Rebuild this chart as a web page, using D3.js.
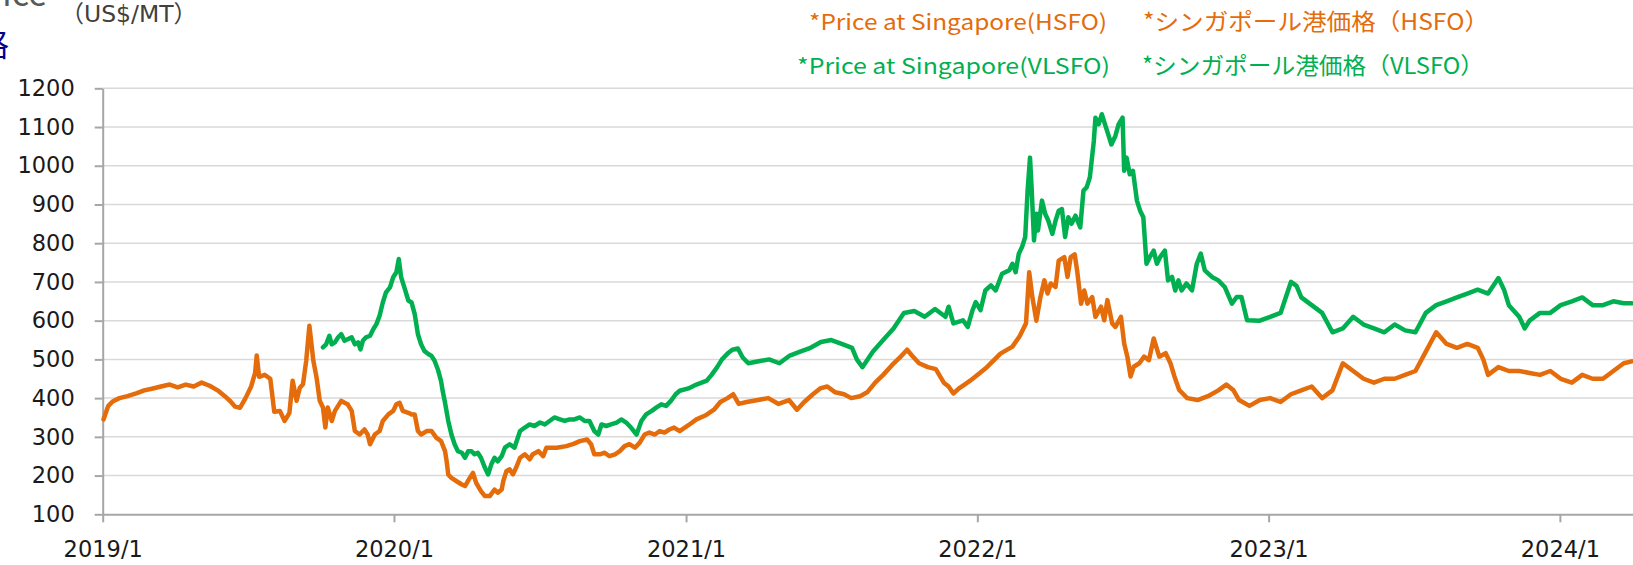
<!DOCTYPE html>
<html><head><meta charset="utf-8">
<script src="https://cdn.jsdelivr.net/npm/d3@7"></script>
<style>html,body{margin:0;padding:0;background:#fff;} svg{display:block;}</style>
</head><body>
<svg id="chart" width="1633" height="565"></svg>
<script>
// ---------- DATA ----------
const yTicks = [100,200,300,400,500,600,700,800,900,1000,1100,1200];
const xTickDates = ["2019-01-01","2020-01-01","2021-01-01","2022-01-01","2023-01-01","2024-01-01"];
const xTickLabels = ["2019/1","2020/1","2021/1","2022/1","2023/1","2024/1"];
const seriesNames = ["*Price at Singapore(HSFO)","*Price at Singapore(VLSFO)"];
const seriesNamesJa = ["*シンガポール港価格（HSFO）","*シンガポール港価格（VLSFO）"];

const hsfo = [
["2019-01-02",345],["2019-01-08",380],["2019-01-14",392],["2019-01-22",400],["2019-02-01",405],["2019-02-12",412],
["2019-02-22",420],["2019-03-05",425],["2019-03-15",430],["2019-03-26",435],["2019-04-05",428],["2019-04-15",435],
["2019-04-25",430],["2019-05-05",440],["2019-05-15",432],["2019-05-25",420],["2019-06-03",405],["2019-06-10",392],
["2019-06-16",378],["2019-06-22",375],["2019-06-29",400],["2019-07-06",430],["2019-07-11",465],["2019-07-13",510],
["2019-07-16",455],["2019-07-23",460],["2019-07-30",450],["2019-08-04",365],["2019-08-11",367],["2019-08-17",341],
["2019-08-23",362],["2019-08-27",445],["2019-09-01",393],["2019-09-05",427],["2019-09-09",436],["2019-09-13",496],
["2019-09-17",587],["2019-09-22",496],["2019-09-26",453],["2019-09-30",393],["2019-10-04",376],["2019-10-07",324],
["2019-10-10",376],["2019-10-15",341],["2019-10-19",367],["2019-10-23",380],["2019-10-27",393],["2019-10-31",388],
["2019-11-04",384],["2019-11-09",367],["2019-11-13",315],["2019-11-19",306],["2019-11-25",319],["2019-11-29",306],
["2019-12-02",281],["2019-12-08",306],["2019-12-14",315],["2019-12-18",341],["2019-12-25",358],["2019-12-31",367],
["2020-01-04",384],["2020-01-08",388],["2020-01-12",367],["2020-01-19",362],["2020-01-23",358],["2020-01-27",358],
["2020-01-31",315],["2020-02-04",306],["2020-02-11",315],["2020-02-17",315],["2020-02-23",298],["2020-02-29",289],
["2020-03-05",263],["2020-03-07",237],["2020-03-09",203],["2020-03-13",194],["2020-03-19",186],["2020-03-26",177],
["2020-03-30",173],["2020-04-05",194],["2020-04-09",207],["2020-04-13",181],["2020-04-19",160],["2020-04-24",147],
["2020-04-30",147],["2020-05-06",164],["2020-05-10",156],["2020-05-15",164],["2020-05-17",186],["2020-05-21",212],
["2020-05-25",216],["2020-05-29",203],["2020-06-02",220],["2020-06-07",246],["2020-06-13",255],["2020-06-19",242],
["2020-06-23",255],["2020-06-30",263],["2020-07-06",250],["2020-07-10",272],["2020-07-23",272],["2020-08-04",276],
["2020-08-13",282],["2020-08-21",289],["2020-08-30",293],["2020-09-04",281],["2020-09-08",255],["2020-09-15",255],
["2020-09-21",259],["2020-09-27",250],["2020-10-04",255],["2020-10-10",263],["2020-10-16",276],["2020-10-22",281],
["2020-10-29",272],["2020-11-04",285],["2020-11-10",306],["2020-11-16",311],["2020-11-23",306],["2020-11-29",315],
["2020-12-05",311],["2020-12-11",319],["2020-12-17",324],["2020-12-24",315],["2021-01-04",330],["2021-01-14",345],
["2021-01-25",355],["2021-02-05",370],["2021-02-13",390],["2021-02-22",400],["2021-03-01",410],["2021-03-08",385],
["2021-03-18",390],["2021-04-01",395],["2021-04-14",400],["2021-04-27",385],["2021-05-10",395],["2021-05-20",370],
["2021-05-29",390],["2021-06-09",410],["2021-06-18",425],["2021-06-27",430],["2021-07-07",415],["2021-07-18",410],
["2021-07-27",400],["2021-08-07",405],["2021-08-16",415],["2021-08-26",440],["2021-09-05",460],["2021-09-16",485],
["2021-09-26",505],["2021-10-05",525],["2021-10-11",510],["2021-10-20",490],["2021-10-31",480],["2021-11-10",475],
["2021-11-20",440],["2021-11-26",430],["2021-12-02",412],["2021-12-09",425],["2021-12-16",435],["2021-12-23",445],
["2022-01-01",460],["2022-01-13",480],["2022-01-30",515],["2022-02-14",533],["2022-02-23",560],["2022-03-03",593],
["2022-03-07",725],["2022-03-11",660],["2022-03-16",600],["2022-03-21",660],["2022-03-26",704],["2022-03-30",670],
["2022-04-03",696],["2022-04-09",687],["2022-04-13",755],["2022-04-20",764],["2022-04-24",713],["2022-04-28",764],
["2022-05-03",771],["2022-05-06",730],["2022-05-11",644],["2022-05-15",678],["2022-05-19",644],["2022-05-25",661],
["2022-05-29",610],["2022-06-05",636],["2022-06-09",601],["2022-06-13",653],["2022-06-19",593],["2022-06-23",584],
["2022-06-30",610],["2022-07-04",541],["2022-07-08",507],["2022-07-12",456],["2022-07-16",481],["2022-07-23",490],
["2022-07-29",507],["2022-08-04",498],["2022-08-10",554],["2022-08-17",507],["2022-08-25",516],["2022-08-31",490],
["2022-09-05",456],["2022-09-11",421],["2022-09-21",400],["2022-10-04",395],["2022-10-17",405],["2022-10-30",420],
["2022-11-09",435],["2022-11-18",420],["2022-11-25",395],["2022-12-08",380],["2022-12-21",395],["2023-01-03",400],
["2023-01-16",390],["2023-01-29",410],["2023-02-11",420],["2023-02-24",430],["2023-03-09",400],["2023-03-22",420],
["2023-04-04",490],["2023-04-17",470],["2023-04-30",450],["2023-05-13",440],["2023-05-26",450],["2023-06-08",450],
["2023-06-21",460],["2023-07-04",470],["2023-07-17",520],["2023-07-30",570],["2023-08-12",540],["2023-08-25",530],
["2023-09-07",540],["2023-09-20",530],["2023-09-27",500],["2023-10-03",460],["2023-10-16",480],["2023-10-29",470],
["2023-11-11",470],["2023-11-24",465],["2023-12-07",460],["2023-12-20",470],["2024-01-02",450],["2024-01-16",440],
["2024-01-29",460],["2024-02-11",450],["2024-02-24",450],["2024-03-08",470],["2024-03-21",490],["2024-03-31",495]
];

const vlsfo = [
["2019-10-04",531],["2019-10-08",539],["2019-10-12",561],["2019-10-15",539],["2019-10-19",544],["2019-10-23",557],
["2019-10-27",565],["2019-10-31",548],["2019-11-04",552],["2019-11-09",557],["2019-11-13",539],["2019-11-17",544],
["2019-11-20",526],["2019-11-23",548],["2019-11-27",557],["2019-12-02",561],["2019-12-06",578],["2019-12-10",591],
["2019-12-14",613],["2019-12-18",647],["2019-12-22",673],["2019-12-27",686],["2019-12-31",712],["2020-01-04",725],
["2020-01-07",759],["2020-01-10",712],["2020-01-14",686],["2020-01-19",652],["2020-01-23",647],["2020-01-27",617],
["2020-01-31",565],["2020-02-04",539],["2020-02-08",522],["2020-02-13",514],["2020-02-17",509],["2020-02-21",496],
["2020-02-25",474],["2020-02-29",444],["2020-03-02",419],["2020-03-05",388],["2020-03-09",341],["2020-03-13",306],
["2020-03-17",281],["2020-03-21",263],["2020-03-26",259],["2020-03-30",246],["2020-04-03",263],["2020-04-07",263],
["2020-04-11",255],["2020-04-15",259],["2020-04-19",246],["2020-04-24",220],["2020-04-28",203],["2020-05-02",229],
["2020-05-06",246],["2020-05-10",237],["2020-05-15",250],["2020-05-19",272],["2020-05-25",281],["2020-05-31",272],
["2020-06-07",315],["2020-06-13",324],["2020-06-19",332],["2020-06-25",328],["2020-07-02",337],["2020-07-08",332],
["2020-07-14",341],["2020-07-20",350],["2020-07-27",345],["2020-08-02",341],["2020-08-08",345],["2020-08-14",345],
["2020-08-21",350],["2020-08-27",341],["2020-09-02",341],["2020-09-08",315],["2020-09-13",306],["2020-09-17",332],
["2020-09-23",328],["2020-09-29",332],["2020-10-06",337],["2020-10-12",345],["2020-10-18",337],["2020-10-24",324],
["2020-10-31",306],["2020-11-06",341],["2020-11-12",358],["2020-11-19",367],["2020-11-25",376],["2020-12-01",384],
["2020-12-07",380],["2020-12-13",393],["2020-12-19",410],["2020-12-24",419],["2021-01-04",425],["2021-01-14",435],
["2021-01-27",445],["2021-02-02",460],["2021-02-09",480],["2021-02-15",500],["2021-02-22",515],["2021-02-28",525],
["2021-03-07",528],["2021-03-13",505],["2021-03-20",490],["2021-04-02",495],["2021-04-15",500],["2021-04-28",490],
["2021-05-11",510],["2021-05-24",520],["2021-06-06",530],["2021-06-19",545],["2021-07-02",550],["2021-07-15",540],
["2021-07-28",530],["2021-08-03",500],["2021-08-10",480],["2021-08-23",520],["2021-09-05",550],["2021-09-18",580],
["2021-10-01",620],["2021-10-14",625],["2021-10-27",610],["2021-11-09",630],["2021-11-22",610],["2021-11-26",636],
["2021-12-02",593],["2021-12-14",601],["2021-12-20",584],["2021-12-26",627],["2021-12-30",648],["2022-01-05",627],
["2022-01-11",678],["2022-01-18",691],["2022-01-24",678],["2022-02-01",721],["2022-02-10",730],["2022-02-14",747],
["2022-02-18",725],["2022-02-22",773],["2022-02-26",790],["2022-03-02",816],["2022-03-05",936],["2022-03-08",1021],
["2022-03-10",944],["2022-03-13",807],["2022-03-16",876],["2022-03-18",833],["2022-03-23",910],["2022-03-27",876],
["2022-03-31",858],["2022-04-05",824],["2022-04-09",858],["2022-04-13",884],["2022-04-17",888],["2022-04-21",816],
["2022-04-25",867],["2022-04-29",850],["2022-05-04",871],["2022-05-10",841],["2022-05-14",936],["2022-05-18",944],
["2022-05-22",970],["2022-05-27",1064],["2022-05-29",1124],["2022-06-02",1107],["2022-06-06",1133],["2022-06-10",1107],
["2022-06-14",1081],["2022-06-18",1055],["2022-06-23",1077],["2022-06-27",1107],["2022-07-02",1124],["2022-07-04",987],
["2022-07-07",1021],["2022-07-11",978],["2022-07-15",987],["2022-07-20",910],["2022-07-24",884],["2022-07-28",867],
["2022-08-01",747],["2022-08-05",764],["2022-08-10",781],["2022-08-14",747],["2022-08-18",764],["2022-08-24",781],
["2022-08-28",704],["2022-09-02",713],["2022-09-06",678],["2022-09-10",704],["2022-09-14",678],["2022-09-20",696],
["2022-09-27",678],["2022-10-03",747],["2022-10-08",773],["2022-10-13",730],["2022-10-22",713],["2022-10-30",704],
["2022-11-07",687],["2022-11-16",644],["2022-11-22",661],["2022-11-28",661],["2022-12-05",601],["2022-12-21",600],
["2023-01-03",610],["2023-01-16",620],["2023-01-29",700],["2023-02-05",690],["2023-02-11",660],["2023-02-24",640],
["2023-03-09",620],["2023-03-22",570],["2023-04-04",580],["2023-04-17",610],["2023-04-30",590],["2023-05-13",580],
["2023-05-26",570],["2023-06-08",590],["2023-06-21",575],["2023-07-04",570],["2023-07-17",620],["2023-07-30",640],
["2023-08-12",650],["2023-08-25",660],["2023-09-07",670],["2023-09-20",680],["2023-10-03",670],["2023-10-16",710],
["2023-10-23",680],["2023-10-29",640],["2023-11-11",610],["2023-11-18",580],["2023-11-24",600],["2023-12-07",620],
["2023-12-20",620],["2024-01-02",640],["2024-01-16",650],["2024-01-29",660],["2024-02-11",640],["2024-02-24",640],
["2024-03-08",650],["2024-03-21",645],["2024-03-31",645]
];

// ---------- CHART ----------
const W = 1633, H = 565;
const parse = d3.utcParse("%Y-%m-%d");
const plotLeft = 102.7, plotTop = 88.3, plotBottom = 514.3;
const x = d3.scaleUtc().domain([parse("2019-01-01"), parse("2024-04-01")]).range([plotLeft, 1632.5]);
const y = d3.scaleLinear().domain([100, 1200]).range([plotBottom, plotTop]);

const svg = d3.select("#chart");
svg.append("rect").attr("width", W).attr("height", H).attr("fill", "#fff");

const axisFont = "'DejaVu Sans', Verdana, sans-serif";

// gridlines
svg.append("g").selectAll("line").data(yTicks.filter(v => v > 100)).join("line")
  .attr("x1", plotLeft).attr("x2", W).attr("y1", d => y(d)).attr("y2", d => y(d))
  .attr("stroke", "#D9D9D9").attr("stroke-width", 1.5);

// y axis
const gy = svg.append("g").attr("transform", `translate(${plotLeft},0)`)
  .call(d3.axisLeft(y).tickValues(yTicks).tickFormat(d3.format("d")).tickSize(8).tickSizeOuter(0).tickPadding(20));
gy.select(".domain").attr("stroke", "#A6A6A6").attr("stroke-width", 2);
gy.selectAll(".tick line").attr("stroke", "#A6A6A6").attr("stroke-width", 2);
gy.selectAll("text").style("font-family", axisFont).style("font-size", "22.5px").attr("fill", "#1a1a1a");

// x axis
const xTicks = xTickDates.map(parse);
const gx = svg.append("g").attr("transform", `translate(0,${plotBottom})`)
  .call(d3.axisBottom(x).tickValues(xTicks).tickFormat((d, i) => xTickLabels[i]).tickSize(8).tickSizeOuter(0).tickPadding(19));
gx.select(".domain").attr("stroke", "#A6A6A6").attr("stroke-width", 2);
gx.selectAll(".tick line").attr("stroke", "#A6A6A6").attr("stroke-width", 2);
gx.selectAll("text").style("font-family", axisFont).style("font-size", "22.5px").attr("fill", "#1a1a1a");

// lines
const line = d3.line().x(d => x(parse(d[0]))).y(d => y(d[1]));
const colors = ["#E46C0A", "#00B050"];
[hsfo, vlsfo].forEach((s, i) => {
  svg.append("path").datum(s).attr("d", line).attr("fill", "none")
    .attr("stroke", colors[i]).attr("stroke-width", 4.5)
    .attr("stroke-linejoin", "round").attr("stroke-linecap", "round");
});

// title fragments & unit
const jp = "'Noto Sans CJK JP', 'Noto Sans', sans-serif";
svg.append("text").attr("x", 47).attr("y", 6).attr("text-anchor", "end")
  .style("font-family", jp).style("font-size", "34px").attr("fill", "#595959").text("Bunker Price");
svg.append("text").attr("x", 9).attr("y", 56).attr("text-anchor", "end")
  .style("font-family", jp).style("font-size", "32px").attr("fill", "#00008B").text("バンカー価格");
svg.append("text").attr("x", 60.5).attr("y", 21.5)
  .style("font-family", "'DejaVu Sans', 'Noto Sans CJK JP', sans-serif").style("font-size", "23.5px")
  .attr("fill", "#404040").text("（US$/MT）");

// legend texts
const legY = [29.5, 74];
const legX1 = [809, 797], legX2 = [1143, 1142];
const legW1 = [298, 313], legW2 = [346, 342];
[0, 1].forEach(i => {
  svg.append("text").attr("x", legX1[i]).attr("y", legY[i])
    .style("font-family", jp).style("font-size", "21.5px").attr("fill", colors[i])
    .attr("textLength", legW1[i]).attr("lengthAdjust", "spacingAndGlyphs")
    .text(seriesNames[i]);
  svg.append("text").attr("x", legX2[i]).attr("y", legY[i])
    .style("font-family", jp).style("font-size", "23px").attr("fill", colors[i])
    .attr("textLength", legW2[i]).attr("lengthAdjust", "spacingAndGlyphs")
    .text(seriesNamesJa[i]);
});
</script>
</body></html>
